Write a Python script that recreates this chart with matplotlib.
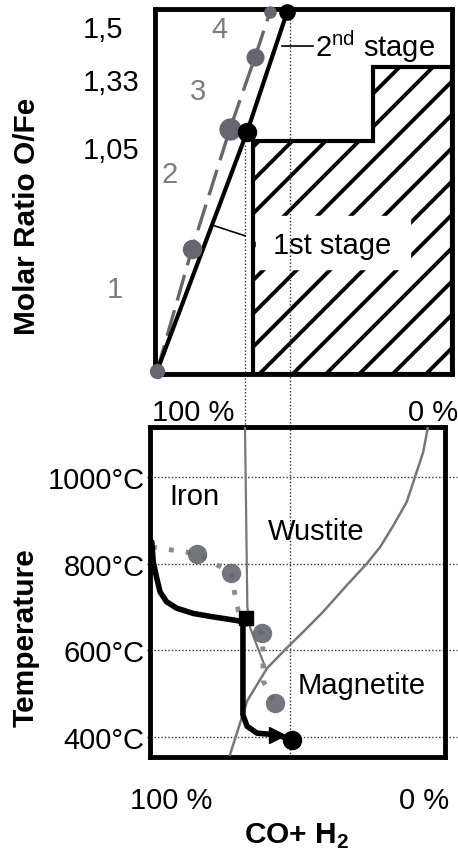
import numpy as np
import matplotlib
matplotlib.use("Agg")
import matplotlib.pyplot as plt
from matplotlib.patches import Polygon
from matplotlib.ticker import NullLocator

plt.rcParams['font.family'] = ['Liberation Sans', 'DejaVu Sans']
plt.rcParams['mathtext.fontset'] = 'custom'
plt.rcParams['mathtext.rm'] = 'Liberation Sans'
plt.rcParams['mathtext.bf'] = 'Liberation Sans:bold'
plt.rcParams['hatch.linewidth'] = 2.8

# ---- data (x = CO+H2 share in %, 100 on the left) ----
# upper panel: molar ratio O/Fe
ratio_ticks = [1.05, 1.33, 1.5]
ratio_labels = ['1,05', '1,33', '1,5']

black_x = [97.6, 67.1, 53.5]          # two stage reduction line
black_r = [0.0, 1.112, 1.545]
gray_x = [97.6, 85.8, 72.9, 64.4, 59.3]  # stepwise reduction 1-4
gray_r = [0.0, 0.57, 1.124, 1.40, 1.545]

hatch_x = [65.1, 65.1, 24.4, 24.4, -2.4, -2.4]
hatch_r = [-0.014, 1.075, 1.075, 1.368, 1.368, -0.014]

step_names = ['1', '2', '3', '4']
step_x = [111.9, 93.2, 83.7, 76.3]
step_r = [0.385, 0.925, 1.28, 1.49]

stage1_x = 67.8
stage2_x = 52.5

# lower panel: Baur-Glaessner diagram
temp_ticks = [400, 600, 800, 1000]
temp_labels = ['400°C', '600°C', '800°C', '1000°C']

fe_feo_x = [67.8, 67.0, 66.0, 61.0]
fe_feo_t = [1115, 700, 651, 562]
mag_x = [5.7, 7.4, 10.2, 13.0, 17.5, 22.0, 26.5, 33.3, 41.3, 48.0, 53.7, 60.3, 67.1, 72.9]
mag_t = [1118, 1057, 999, 942, 888, 838, 800, 750, 689, 643, 605, 559, 483, 359]

path_x = [99.4, 98.9, 97.7, 96.6, 94.4, 90.9, 85.3, 78.5, 71.8, 68.4,
          68.5, 68.5, 67.1, 63.7, 56.9]
path_t = [850, 804, 766, 735, 712, 697, 685, 677, 670, 666,
          651, 451, 425, 409, 405]
path_end = (51.9, 393)
path_mid = (67.5, 674)

steps_x = [99.3, 84.1, 72.5, 71.0, 70.0, 67.5, 62.0, 61.7, 61.7, 57.6]
steps_t = [838, 823, 779, 720, 690, 662, 639, 598, 530, 478]
steps_dot_x = [84.1, 72.5, 62.0, 57.6]
steps_dot_t = [823, 779, 639, 478]

# ---- layout ----
W, H = 458, 853
fig = plt.figure(figsize=(W / 100, H / 100), dpi=100)


def box(x0, y0, x1, y1):
    return [x0 / W, 1 - y1 / H, (x1 - x0) / W, (y1 - y0) / H]


ax_top = fig.add_axes(box(155, 10, 452, 375))
ax_bot = fig.add_axes(box(150, 428, 445, 758))

for ax in (ax_top, ax_bot):
    for s in ax.spines.values():
        s.set_linewidth(3.5)
    ax.set_xticks([])

# schematic (non linear) ratio axis
R_KNOTS = [-1, 0, 1.05, 1.33, 1.5, 2.5]
S_KNOTS = [-213, 0, 224, 292, 345, 657]


def fwd(r):
    return np.interp(r, R_KNOTS, S_KNOTS)


def inv(s):
    return np.interp(s, S_KNOTS, R_KNOTS)


ax_top.set_yscale('function', functions=(fwd, inv))
ax_top.set_xlim(98.3, -2.4)
ax_top.set_ylim(-0.014, 1.5545)
ax_top.yaxis.set_minor_locator(NullLocator())
ax_top.set_yticks(ratio_ticks, ratio_labels)
ax_top.tick_params(axis='y', length=0, pad=52, labelsize=21)
for lab in ax_top.get_yticklabels():
    lab.set_horizontalalignment('left')

gray = '#66666e'
# hatched zone
ax_top.add_patch(Polygon(np.column_stack([hatch_x, hatch_r]), closed=True,
                         facecolor='white', edgecolor='black', lw=3, hatch='/', zorder=1))
ax_top.fill([64.0, 11.9, 11.9, 64.0], [0.479, 0.479, 0.728, 0.728], color='white', zorder=2)
ax_top.text(38.3, 0.59, '1st stage', fontsize=21, ha='center', va='center', zorder=3)
ax_top.plot([78.0, 67.8], [0.68, 0.634], color='black', lw=1.2, zorder=3)
ax_top.plot([55.3, 44.7], [1.436, 1.436], color='black', lw=1.2, zorder=3)
ax_top.text(44.1, 1.436, r'2$^{\mathrm{nd}}$ stage', fontsize=21, ha='left', va='center', zorder=3)

ax_top.plot(gray_x, gray_r, color=gray, lw=2.4, dashes=(8, 3), zorder=4)
ax_top.plot(black_x, black_r, color='black', lw=3.0, zorder=5)
for x, r, ms in zip(gray_x, gray_r, [11, 14, 16, 13, 9]):
    ax_top.plot(x, r, 'o', color=gray, ms=ms, mec='none', zorder=6, clip_on=False)
for x, r, ms in zip(black_x[1:], black_r[1:], [14, 12]):
    ax_top.plot(x, r, 'o', color='black', ms=ms, mec='none', zorder=7, clip_on=False)

for name, x, r in zip(step_names, step_x, step_r):
    ax_top.text(x, r, name, fontsize=21, color='#7d7d7d', ha='center', va='center')

# dotted stage lines running down into the lower panel
ylo, yhi = ax_top.get_ylim()


def frac(r):
    return (fwd(r) - fwd(ylo)) / (fwd(yhi) - fwd(ylo))


gap = (ax_bot.get_position().y1 - ax_top.get_position().y0) / ax_top.get_position().height
dot_style = dict(color='#333333', lw=1.0, ls=(0, (1, 1.5)), clip_on=False, zorder=2)
ax_top.plot([stage1_x, stage1_x], [frac(1.06), gap], transform=ax_top.get_xaxis_transform(), **dot_style)
ax_top.plot([stage2_x, stage2_x], [frac(1.545), gap], transform=ax_top.get_xaxis_transform(), **dot_style)

# ---- lower panel ----
ax_bot.set_xlim(100, 0)
ax_bot.set_ylim(354, 1115)
ax_bot.set_yticks(temp_ticks, temp_labels)
ax_bot.tick_params(axis='y', length=0, pad=4, labelsize=21)

for t in temp_ticks:
    ax_bot.plot([101.0, -4.1], [t, t], **dot_style)
ax_bot.plot([stage2_x, stage2_x], [354, 1115], **dot_style)

ax_bot.plot(fe_feo_x, fe_feo_t, color='#777777', lw=1.6, zorder=3)
ax_bot.plot(mag_x, mag_t, color='#777777', lw=1.8, zorder=3, solid_joinstyle='round')

ax_bot.plot(steps_x, steps_t, color='#8a8a90', lw=3.5, ls=(0, (1, 2.5)), zorder=4)
ax_bot.plot(steps_dot_x, steps_dot_t, 'o', color=gray, ms=14, mec='none', alpha=0.9, zorder=4)

ax_bot.plot(path_x + [path_end[0]], path_t + [path_end[1]], color='black', lw=4,
            solid_joinstyle='round', solid_capstyle='round', zorder=5)
ax_bot.plot(path_x[-1], path_t[-1], '>', color='black', ms=11, zorder=6)
ax_bot.plot(*path_mid, 's', color='black', ms=10, zorder=6)
ax_bot.plot(*path_end, 'o', color='black', ms=13, zorder=6, clip_on=False)

ax_bot.text(85.1, 956, 'Iron', fontsize=21, ha='center', va='center')
ax_bot.text(43.7, 876, 'Wustite', fontsize=21, ha='center', va='center')
ax_bot.text(28.1, 520, 'Magnetite', fontsize=21, ha='center', va='center')


# ---- free text ----
def ftext(x, y, s, **kw):
    fig.text(x / W, 1 - y / H, s, ha='center', va='center', **kw)


ftext(27, 216, 'Molar Ratio O/Fe', fontsize=21.5, fontweight='bold', rotation=90)
ftext(26, 638, 'Temperature', fontsize=21.5, fontweight='bold', rotation=90)
ftext(193, 413, '100 %', fontsize=21)
ftext(433, 413, '0 %', fontsize=21)
ftext(171, 801, '100 %', fontsize=21)
ftext(424, 801, '0 %', fontsize=21)
ftext(297, 836, r'CO+ H$_{\mathbf{2}}$', fontsize=21.5, fontweight='bold')

fig.savefig('out.png', dpi=100)
